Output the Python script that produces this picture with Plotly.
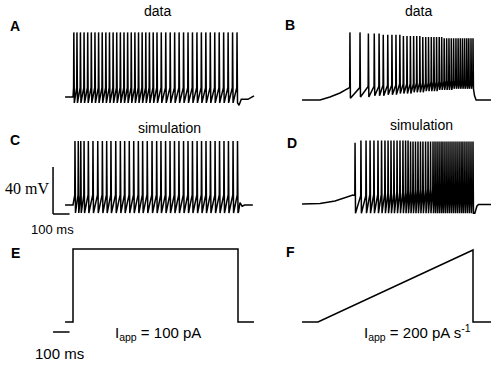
import plotly.graph_objects as go

W, H = 491, 373

# ---------------- data (time in ms, voltage in mV, current in pA) ----------------
# Panel A (data, step current)
a_spike_ms = [5, 24, 45, 67, 89, 111, 133, 155, 177, 199, 221, 243, 265, 287, 309, 331,
              353, 375, 397, 419, 441, 463, 486, 509, 535, 562, 589, 616, 643, 670, 697,
              724, 751, 778, 805, 832, 859, 886, 913, 940, 967, 994]
a_peak_mV, a_trough_mV, a_thresh_mV = -10, -70, -57
a_pre_ms, a_pre_mV = [-48, 0], [-65, -65]
a_post_ms, a_post_mV = [1006, 1020, 1060, 1097], [-72, -67, -67, -64]

# Panel B (data, ramp current)
b_spike_ms = [206, 271, 325, 363, 394, 421, 450, 477, 503, 528, 551, 574, 596, 617, 637,
              657, 676, 695, 713, 731, 748, 765, 782, 798, 814, 830, 845, 860, 875, 890,
              904, 918, 932, 946, 960, 973, 987, 1000]
b_peak_mV = [-10, -10, -11, -11, -11, -12, -12, -12, -12, -12, -13, -13, -13, -13, -13,
             -13, -14, -14, -14, -14, -14, -14, -14, -14, -15, -15, -15, -15, -15, -15,
             -15, -15, -15, -15, -15, -15, -15, -15]
b_trough_mV = [-66, -65, -65, -64, -64, -64, -63, -63, -63, -62, -62, -62, -62, -61, -61,
               -61, -61, -60, -60, -60, -60, -60, -59, -59, -59, -59, -59, -59, -58, -58,
               -58, -58, -58, -58, -58, -58, -58, -58]
b_thresh_mV = [-57, -57, -56, -56, -56, -55, -55, -55, -55, -54, -54, -54, -54, -54, -53,
               -53, -53, -53, -53, -52, -52, -52, -52, -52, -52, -51, -51, -51, -51, -51,
               -51, -51, -51, -51, -51, -51, -51, -51]
b_pre_ms = [-103, 13, 77, 142, 200]
b_pre_mV = [-67.5, -67.5, -65, -61.6, -57.3]
b_post_ms, b_post_mV = [1010, 1020, 1116], [-64, -67.5, -67.5]

# Panel C (simulation, step current)
c_spike_ms = [12, 32, 47, 67, 93, 121, 150, 178, 204, 230, 259, 287, 313, 341, 368, 396,
              422, 450, 479, 507, 533, 561, 588, 615, 642, 670, 697, 724, 752, 779, 806,
              833, 861, 888, 915, 942, 970, 997]
c_peak_mV, c_trough_mV, c_thresh_mV = -10.5, -71.8, -56.5
c_pre_ms, c_pre_mV = [-48, 0], [-65, -65]
c_post_ms, c_post_mV = [1003, 1012, 1025, 1040, 1090], [-71, -63, -66, -65, -65]

# Panel D (simulation, ramp current)
d_spike_ms = [239, 277, 310, 336, 361, 387, 410, 432, 452, 471, 490, 510, 529, 548, 565,
              581, 597, 613, 629, 645, 661, 677, 694, 710, 726, 742, 755, 768, 781, 794,
              806, 819, 832, 845, 858, 871, 884, 897, 910, 923, 935, 948, 961, 974, 987, 1000]
d_peak_mV = [-12, -10, -10, -10, -10, -10, -10, -10, -10, -10, -10, -10, -10, -10, -10,
             -10, -11, -11, -11, -11, -11, -11, -11, -11, -11, -11, -11, -11, -11, -11,
             -11, -11, -11, -11, -11, -11, -11, -11, -11, -11, -11, -11, -11, -11, -11, -11]
d_trough_mV = [-72, -72, -72, -72, -72, -72, -72, -72, -72, -72, -72, -72, -72, -72, -72,
               -72, -72, -72, -72, -72, -72, -72, -72, -72, -72, -72, -72, -72, -72, -72,
               -72, -72, -72, -72, -72, -72, -72, -72, -72, -72, -72, -72, -72, -72, -72, -72]
d_thresh_mV = [-57, -57, -57, -56, -56, -56, -56, -55, -55, -55, -55, -54, -54, -54, -54,
               -53, -53, -53, -53, -52, -52, -52, -52, -51, -51, -51, -51, -50, -50, -50,
               -50, -50, -49, -49, -49, -49, -49, -48, -48, -48, -48, -48, -48, -48, -48, -48]
d_pre_ms = [-103, 13, 110, 174, 225]
d_pre_mV = [-64.1, -63.7, -61.6, -59, -56.5]
d_post_ms, d_post_mV = [1003, 1012, 1025, 1035, 1116], [-72, -72, -66, -64.5, -64.5]

# Panels E, F (applied current)
e_ms = [-48, 0, 0, 1000, 1000, 1097]
e_pA = [0, 0, 100, 100, 0, 0]
f_ms = [-103, 0, 1000, 1000, 1116]
f_pA = [0, 0, 200, 0, 0]

# scale bars
bar_ms = 100
bar_mV = 40


def train(pre_t, pre_v, spikes, peaks, troughs, thresh, post_t, post_v):
    t, v = list(pre_t), list(pre_v)
    for s, p, tr, th in zip(spikes, peaks, troughs, thresh):
        t += [s - 1.5, s, s + 3]
        v += [th, p, tr]
    return t + list(post_t), v + list(post_v)


def const(val, n):
    return [val] * n


at, av = train(a_pre_ms, a_pre_mV, a_spike_ms, const(a_peak_mV, len(a_spike_ms)),
               const(a_trough_mV, len(a_spike_ms)), const(a_thresh_mV, len(a_spike_ms)),
               a_post_ms, a_post_mV)
bt, bv = train(b_pre_ms, b_pre_mV, b_spike_ms, b_peak_mV, b_trough_mV, b_thresh_mV,
               b_post_ms, b_post_mV)
ct, cv = train(c_pre_ms, c_pre_mV, c_spike_ms, const(c_peak_mV, len(c_spike_ms)),
               const(c_trough_mV, len(c_spike_ms)), const(c_thresh_mV, len(c_spike_ms)),
               c_post_ms, c_post_mV)
dt, dv = train(d_pre_ms, d_pre_mV, d_spike_ms, d_peak_mV, d_trough_mV, d_thresh_mV,
               d_post_ms, d_post_mV)

line = dict(color="black", width=1.5)
fig = go.Figure()
for i, (x, y) in enumerate([(at, av), (bt, bv), (ct, cv), (dt, dv), (e_ms, e_pA), (f_ms, f_pA)], start=1):
    fig.add_trace(go.Scatter(x=x, y=y, mode="lines", line=line, hoverinfo="skip",
                             xaxis="x" if i == 1 else f"x{i}", yaxis="y" if i == 1 else f"y{i}"))


def xax(d0, d1, p0, s):
    return dict(domain=[d0 / W, d1 / W], range=[(d0 - p0) / s, (d1 - p0) / s], visible=False)


def yax(top, bot, pref, vref, s, anchor):
    return dict(domain=[1 - bot / H, 1 - top / H],
                range=[vref + (pref - bot) / s, vref + (pref - top) / s], visible=False, anchor=anchor)


LX = (40, 262, 73, 0.165)
RX = (276, 491, 318, 0.155)
layout = dict(
    width=W, height=H, margin=dict(l=0, r=0, t=0, b=0), showlegend=False,
    paper_bgcolor="white", plot_bgcolor="white",
)
layout["xaxis"] = dict(xax(*LX), anchor="y")
layout["yaxis"] = yax(15, 112, 97, -65, 1.175, "x")
layout["xaxis2"] = dict(xax(*RX), anchor="y2")
layout["yaxis2"] = yax(15, 112, 97, -65, 1.175, "x2")
layout["xaxis3"] = dict(xax(*LX), anchor="y3")
layout["yaxis3"] = yax(124, 222, 205, -65, 1.175, "x3")
layout["xaxis4"] = dict(xax(*RX), anchor="y4")
layout["yaxis4"] = yax(124, 222, 205, -65, 1.175, "x4")
layout["xaxis5"] = dict(xax(*LX), anchor="y5")
layout["yaxis5"] = yax(240, 345, 322, 0, 0.73, "x5")
layout["xaxis6"] = dict(xax(*RX), anchor="y6")
layout["yaxis6"] = yax(240, 345, 322, 0, 0.36, "x6")
fig.update_layout(**layout)

# scale bars (drawn in the axes' own units)
bar_t0 = -121
bar_v0 = -72.66
bar_i0 = -13.7
fig.add_shape(type="line", xref="x3", yref="y3", x0=bar_t0, x1=bar_t0, y0=bar_v0, y1=bar_v0 + bar_mV,
              line=dict(color="black", width=1.5))
fig.add_shape(type="line", xref="x3", yref="y3", x0=bar_t0, x1=bar_t0 + bar_ms, y0=bar_v0, y1=bar_v0,
              line=dict(color="black", width=1.5))
fig.add_shape(type="line", xref="x5", yref="y5", x0=bar_t0, x1=bar_t0 + bar_ms, y0=bar_i0, y1=bar_i0,
              line=dict(color="black", width=1.5))

SANS = "Arial, Liberation Sans, sans-serif"
SERIF = "Times New Roman, Liberation Serif, serif"


def note(text, x, y, size=14, family=SANS, xanchor="center", weight="normal"):
    fig.add_annotation(text=text, x=x / W, y=1 - y / H, xref="paper", yref="paper",
                       xanchor=xanchor, yanchor="middle", showarrow=False,
                       font=dict(family=family, size=size, color="black", weight=weight))


note("data", 157, 11)
note("data", 418, 11)
note("simulation", 169, 128)
note("simulation", 421, 125)
for lab, x, y in [("A", 15, 26), ("B", 290, 25), ("C", 15, 140), ("D", 292, 143), ("E", 15, 253), ("F", 290, 252)]:
    note(lab, x, y, size=14, weight="bold")
note("40 mV", 51, 188, size=16, family=SERIF, xanchor="right")
note("100 ms", 52, 229, size=13)
note("100 ms", 59, 353, size=15)
note("I<sub>app</sub> = 100 pA", 158, 333, size=15)
note("I<sub>app</sub> = 200 pA s<sup>-1</sup>", 417, 332, size=15)

fig.write_html("out.html", config={"displayModeBar": False},
               post_script="document.body.style.margin='0';document.body.style.overflow='hidden';")
